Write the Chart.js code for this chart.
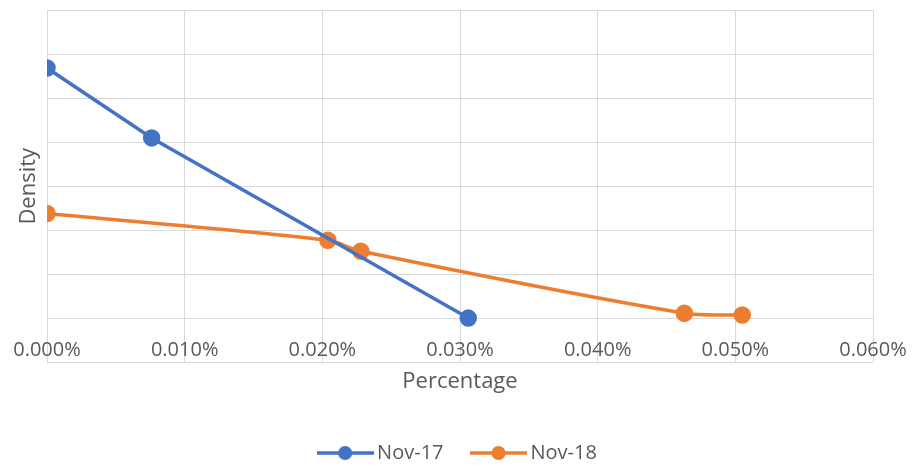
<!DOCTYPE html>
<html>
<head>
<meta charset="utf-8">
<script src="https://cdn.jsdelivr.net/npm/chart.js@4.4.1/dist/chart.umd.min.js"></script>
<style>
  html, body { margin: 0; padding: 0; background: #fff; }
  #wrap { width: 914px; height: 467px; }
</style>
</head>
<body>
<div id="wrap"><canvas id="densityChart"></canvas></div>
<script>
// values (x in percent, y in gridline units)
var nov17X = [0, 0.0076, 0.0306];
var nov17Y = [5.69, 4.10, 0];
var nov18X = [0, 0.0204, 0.0228, 0.0463, 0.0505];
var nov18Y = [2.38, 1.77, 1.52, 0.11, 0.07];

var xMin = 0, xMax = 0.06, xStep = 0.01;
var yMin = -1, yMax = 7, yStep = 1;

var blue = '#4472C4';
var orange = '#ED7D31';
var textGrey = '#595959';
var gridGrey = '#d9d9d9';
var fontName = "'Open Sans', sans-serif";

function toPoints(xs, ys){
  var pts = [];
  for(var i = 0; i < xs.length; i++) pts.push({ x: xs[i], y: ys[i] });
  return pts;
}

// little line-with-dot picture for the legend
function legendMark(colour){
  var c = document.createElement('canvas');
  c.width = 57; c.height = 16;
  var g = c.getContext('2d');
  g.strokeStyle = colour;
  g.lineWidth = 3.5;
  g.beginPath(); g.moveTo(0, 8); g.lineTo(57, 8); g.stroke();
  g.fillStyle = colour;
  g.beginPath(); g.arc(28.5, 8, 7, 0, Math.PI * 2); g.fill();
  return c;
}

var marks = [legendMark(blue), legendMark(orange)];

new Chart(document.getElementById('densityChart'), {
  type: 'line',
  data: {
    datasets: [
      {
        label: 'Nov-17', data: toPoints(nov17X, nov17Y),
        borderColor: blue, backgroundColor: blue,
        borderWidth: 3.5, pointRadius: 7, pointHoverRadius: 7, tension: 0
      },
      {
        label: 'Nov-18', data: toPoints(nov18X, nov18Y),
        borderColor: orange, backgroundColor: orange,
        borderWidth: 3.5, pointRadius: 7, pointHoverRadius: 7, tension: 0.3
      }
    ]
  },
  options: {
    responsive: true, maintainAspectRatio: false, animation: false,
    layout: { padding: { top: 9, right: 41, bottom: -6, left: 0 } },
    scales: {
      x: {
        type: 'linear', min: xMin, max: xMax,
        position: { y: 0 },
        afterFit: function(s){ s.height = 80; s.paddingLeft = 0; s.paddingRight = 0 },
        ticks: {
          stepSize: xStep, padding: 20, color: textGrey,
          font: { family: fontName, size: 20 },
          callback: function(v){ return v.toFixed(3) + '%' }
        },
        grid: { color: gridGrey, drawTicks: false },
        border: { color: gridGrey },
        title: { display: true, text: 'Percentage', color: textGrey,
                 font: { family: fontName, size: 22 }, padding: { top: 0, bottom: 3 } }
      },
      y: {
        type: 'linear', min: yMin, max: yMax,
        afterFit: function(s){ s.width = 47 },
        ticks: { stepSize: yStep, display: false },
        grid: { color: gridGrey, drawTicks: false },
        border: { display: false },
        title: { display: true, text: 'Density', color: textGrey,
                 font: { family: fontName, size: 22 }, padding: { top: 16, bottom: 0 } }
      }
    },
    plugins: {
      tooltip: { enabled: false },
      legend: {
        position: 'bottom', fullSize: false,
        title: { display: true, text: '', font: { size: 10 }, padding: { top: 0, bottom: 36 } },
        labels: {
          usePointStyle: true, pointStyleWidth: 44, padding: 33,
          color: textGrey, font: { family: fontName, size: 20 },
          generateLabels: function(chart){
            return chart.data.datasets.map(function(ds, i){
              return { text: ds.label, pointStyle: marks[i], fontColor: textGrey,
                       strokeStyle: ds.borderColor, fillStyle: ds.backgroundColor,
                       lineWidth: 0, datasetIndex: i, hidden: false };
            });
          }
        }
      }
    }
  }
});
</script>
</body>
</html>
